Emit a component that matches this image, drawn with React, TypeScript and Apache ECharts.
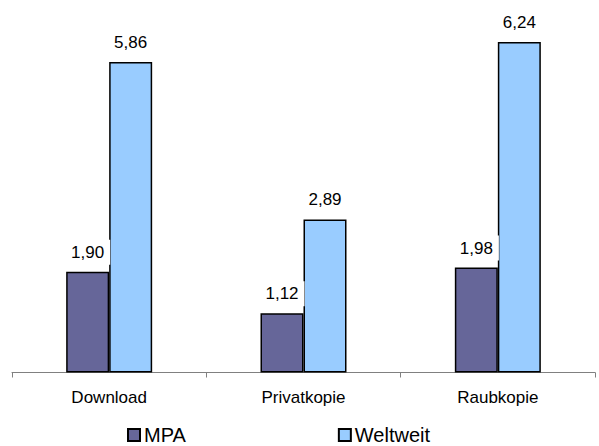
import React, { useEffect, useRef } from "react";
import * as echarts from "echarts";

const categories = ["Download", "Privatkopie", "Raubkopie"];
const mpaValues = [1.9, 1.12, 1.98];
const weltweitValues = [5.86, 2.89, 6.24];
const seriesNames = ["MPA", "Weltweit"];

const FONT = "'Liberation Sans', Arial, sans-serif";

export default function App() {
  const ref = useRef<HTMLDivElement>(null);
  useEffect(() => {
    document.body.style.margin = "0";
    if (!ref.current) return;
    const chart = echarts.init(ref.current, null, { renderer: "svg" });
    const fmt = (p: any) => Number(p.value).toFixed(2).replace(".", ",");
    const label = {
      show: true,
      position: "top",
      distance: 7,
      formatter: fmt,
      fontFamily: FONT,
      fontSize: 17,
      color: "#000",
      backgroundColor: "#fff",
      padding: [4, 6],
    };
    chart.setOption({
      animation: false,
      backgroundColor: "#fff",
      textStyle: { fontFamily: FONT },
      grid: { left: 12, right: 4, top: 1.7, bottom: 73.5, containLabel: false },
      legend: {
        data: seriesNames,
        left: 122,
        top: 420,
        icon: "rect",
        itemWidth: 12,
        itemHeight: 12,
        itemGap: 152,
        textStyle: { fontFamily: FONT, fontSize: 20, color: "#000", padding: [0, 0, 0, -1] },
      },
      xAxis: {
        type: "category",
        data: categories,
        axisLine: { lineStyle: { color: "#808080", width: 1 } },
        axisTick: { show: true, length: 5, lineStyle: { color: "#808080" } },
        axisLabel: { fontFamily: FONT, fontSize: 17, color: "#000", margin: 16 },
      },
      yAxis: {
        type: "value",
        min: 0,
        max: 7,
        show: false,
        splitLine: { show: false },
      },
      series: [
        {
          name: seriesNames[0],
          type: "bar",
          data: mpaValues,
          barWidth: 43,
          barGap: "0%",
          itemStyle: { color: "#666699", borderColor: "#000", borderWidth: 1.5 },
          label,
        },
        {
          name: seriesNames[1],
          type: "bar",
          data: weltweitValues,
          barWidth: 43,
          itemStyle: { color: "#99CCFF", borderColor: "#000", borderWidth: 1.5 },
          label,
        },
      ],
    });
    return () => chart.dispose();
  }, []);
  return <div ref={ref} style={{ width: 599, height: 446 }} />;
}
